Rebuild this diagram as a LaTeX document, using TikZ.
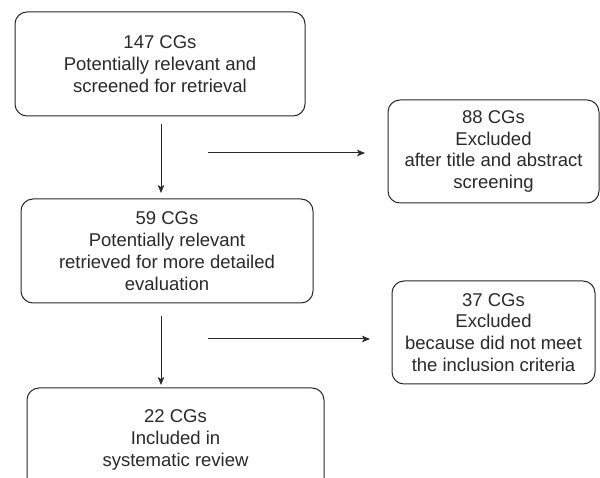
\documentclass[tikz,border=0pt]{standalone}
\usepackage{fontspec}
\setmainfont{Liberation Sans}
\usetikzlibrary{arrows.meta}
\definecolor{ink}{HTML}{2A2A2A}
\tikzset{
  box/.style={draw=ink, line width=1pt, rounded corners=12pt, align=center, text=ink,
    font=\fontsize{18.5}{21.8}\selectfont, inner sep=0pt},
  arr/.style={draw=ink, line width=1pt, -{Stealth[length=8pt,width=6.5pt,inset=2pt]}}
}
\begin{document}
\begin{tikzpicture}[x=1pt,y=-1pt]
\clip (0,0) rectangle (600,478);
\fill[white] (0,0) rectangle (600,478);
\node[box, minimum width=290pt, minimum height=104pt] (b1) at (160,64) {147 CGs\\Potentially relevant and\\screened for retrieval};
\node[box, minimum width=211pt, minimum height=103pt] (x1) at (493.5,151.5) {88 CGs\\Excluded\\after title and abstract\\screening};
\node[box, minimum width=292pt, minimum height=104pt] (b2) at (167,251) {59 CGs\\Potentially relevant\\retrieved for more detailed\\evaluation};
\node[box, minimum width=203pt, minimum height=103pt] (x2) at (493.5,332.5) {37 CGs\\Excluded\\because did not meet\\the inclusion criteria};
\node[box, minimum width=297pt, minimum height=104pt] (b3) at (175.5,440) {22 CGs\\Included in\\systematic review};
\coordinate (a1s) at (161,124);
\coordinate (a1e) at (161,193);
\coordinate (a2s) at (161,316);
\coordinate (a2e) at (161,385);
\coordinate (h1s) at (208,153);
\coordinate (h1e) at (365,153);
\coordinate (h2s) at (208,339);
\coordinate (h2e) at (370,339);
\draw[arr] (a1s) -- (a1e);
\draw[arr] (a2s) -- (a2e);
\draw[arr] (h1s) -- (h1e);
\draw[arr] (h2s) -- (h2e);
\end{tikzpicture}
\end{document}
